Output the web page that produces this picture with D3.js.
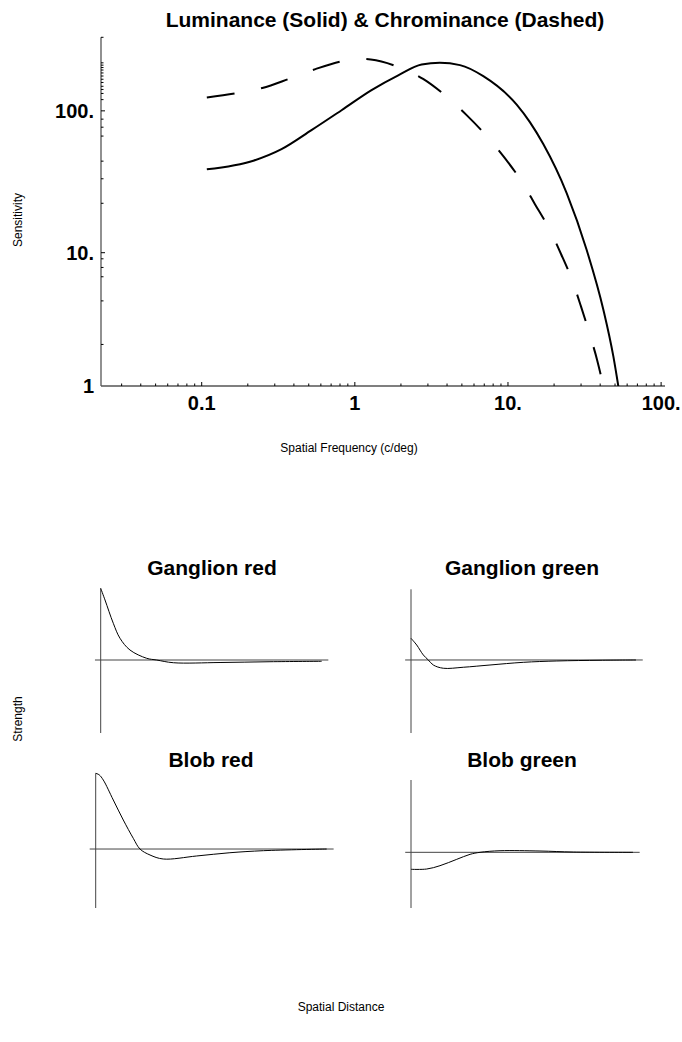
<!DOCTYPE html>
<html>
<head>
<meta charset="utf-8">
<script src="https://cdn.jsdelivr.net/npm/d3@7"></script>
<style>
    body { margin: 0; background: #fff; }
    svg { display: block; }
    text { font-family: "Liberation Sans", Arial, Helvetica, sans-serif; fill: #000; }
</style>
</head>
<body>
<div id="chart"></div>
<script>
// ---- data: contrast sensitivity (log-log) ----
const lumFreq = [0.108, 0.22, 0.332, 0.521, 0.819, 1.285, 1.92, 2.73, 3.59, 4.86, 6.9, 11.4, 13.9, 17.0, 24.2, 32.7, 42.0, 48.8, 52.6];
const lumSens = [38.7, 44.7, 53.7, 73.1, 101, 140, 178, 212, 218, 210, 175.5, 110.6, 83.2, 58.3, 26.2, 10.4, 3.72, 1.66, 0.99];

const chromFreq = [0.108, 0.166, 0.249, 0.376, 0.553, 0.839, 1.03, 1.27, 1.94, 2.79, 3.94, 5.37, 7.26, 9.46, 12.2, 15.0, 18.6, 22.2, 26.3, 30.0, 34.3, 38.3, 42.0];
const chromSens = [124.3, 133, 145, 169, 197, 225, 233, 230, 203, 168, 127, 93.3, 66.4, 47, 32.1, 22.0, 14.7, 9.78, 6.17, 3.94, 2.41, 1.55, 0.99];

const xMajorTicks = [0.1, 1, 10, 100];
const xTickLabels = ['0.1', '1', '10.', '100.'];
const xMinorTicks = [0.03, 0.04, 0.05, 0.06, 0.07, 0.08, 0.09,
    0.2, 0.3, 0.4, 0.5, 0.6, 0.7, 0.8, 0.9,
    2, 3, 4, 5, 6, 7, 8, 9,
    20, 30, 40, 50, 60, 70, 80, 90];

const yMajorTicks = [1, 10, 100];
const yTickLabels = ['1', '10.', '100.'];
const yMinorTicks = [2.05, 4.35, 6.6, 7.75, 9,
    22.3, 33.2, 44.2, 66.4, 76.7, 87.4,
    120, 132.6, 141.5, 149, 158.5, 167, 176, 185, 194, 202, 210, 218, 330];

// ---- data: receptive field profiles (distance 0..10, arbitrary strength) ----
const ganglionRedDist = [0, 0.195, 0.57, 0.873, 1.326, 2.08, 2.53, 3.29, 5.4, 7.66, 10];
const ganglionRedStrength = [1.0, 0.837, 0.512, 0.303, 0.139, 0.024, 0, -0.038, -0.035, -0.024, -0.018];

const ganglionGreenDist = [0, 0.253, 0.547, 0.769, 0.991, 1.436, 2.324, 3.51, 4.99, 6.48, 8.4, 10];
const ganglionGreenStrength = [0.307, 0.212, 0.071, 0, -0.071, -0.117, -0.103, -0.071, -0.033, -0.014, -0.004, 0];

const blobRedDist = [0, 0.15, 0.329, 0.762, 1.195, 1.628, 1.918, 2.351, 2.926, 4.372, 5.81, 7.26, 10];
const blobRedStrength = [1.0, 0.98, 0.911, 0.647, 0.383, 0.141, 0, -0.079, -0.132, -0.092, -0.049, -0.022, 0];

const blobGreenDist = [0, 0.707, 1.306, 2.06, 2.66, 3.11, 4.01, 5.81, 7.31, 10];
const blobGreenStrength = [-0.235, -0.231, -0.185, -0.097, -0.028, 0, 0.022, 0.018, 0.004, 0];

const width = 682;
const height = 1042;

const svg = d3.select('#chart')
    .append('svg')
    .attr('width', width)
    .attr('height', height);

/**
 * Top plot: luminance vs chrominance sensitivity on log-log axes
 */
function drawSensitivity() {
    const x = d3.scaleLog().domain([0.022, 106]).range([101, 665]);
    // piecewise log scale, the decades in the original are not quite even
    const y = d3.scaleLog().domain([1, 10, 330]).range([386, 252.7, 37.3]);

    svg.append('text')
        .attr('x', 385).attr('y', 27)
        .attr('text-anchor', 'middle')
        .style('font-size', '21px').style('font-weight', 'bold')
        .text('Luminance (Solid) & Chrominance (Dashed)');

    // axis lines
    const axisColor = '#555';
    svg.append('line')
        .attr('x1', x.range()[0]).attr('x2', x.range()[1])
        .attr('y1', y(1)).attr('y2', y(1))
        .attr('stroke', axisColor).attr('stroke-width', 1.3);
    svg.append('line')
        .attr('x1', x.range()[0]).attr('x2', x.range()[0])
        .attr('y1', y(1)).attr('y2', y(330))
        .attr('stroke', axisColor).attr('stroke-width', 1.3);

    // x ticks
    svg.selectAll('.xmin').data(xMinorTicks).enter().append('line')
        .attr('x1', d => x(d)).attr('x2', d => x(d))
        .attr('y1', y(1)).attr('y2', y(1) - 2.5)
        .attr('stroke', '#000').attr('stroke-width', 1);
    svg.selectAll('.xmaj').data(xMajorTicks).enter().append('line')
        .attr('x1', d => x(d)).attr('x2', d => x(d))
        .attr('y1', y(1)).attr('y2', y(1) - 4)
        .attr('stroke', '#000').attr('stroke-width', 1);
    svg.selectAll('.xlab').data(xMajorTicks).enter().append('text')
        .attr('x', d => x(d)).attr('y', y(1) + 24)
        .attr('text-anchor', 'middle')
        .style('font-size', '20px').style('font-weight', 'bold')
        .text((d, i) => xTickLabels[i]);

    // y ticks
    svg.selectAll('.ymin').data(yMinorTicks).enter().append('line')
        .attr('x1', x.range()[0]).attr('x2', x.range()[0] + 2.5)
        .attr('y1', d => y(d)).attr('y2', d => y(d))
        .attr('stroke', '#000').attr('stroke-width', 1);
    svg.selectAll('.ymaj').data(yMajorTicks.slice(1)).enter().append('line')
        .attr('x1', x.range()[0]).attr('x2', x.range()[0] + 4)
        .attr('y1', d => y(d)).attr('y2', d => y(d))
        .attr('stroke', '#000').attr('stroke-width', 1);
    svg.selectAll('.ylab').data(yMajorTicks).enter().append('text')
        .attr('x', 94).attr('y', d => y(d) + 7)
        .attr('text-anchor', 'end')
        .style('font-size', '20px').style('font-weight', 'bold')
        .text((d, i) => yTickLabels[i]);

    // axis titles
    svg.append('text')
        .attr('transform', 'translate(22,220) rotate(-90)')
        .attr('text-anchor', 'middle')
        .style('font-size', '12px')
        .text('Sensitivity');
    svg.append('text')
        .attr('x', 349).attr('y', 452)
        .attr('text-anchor', 'middle')
        .style('font-size', '12px')
        .text('Spatial Frequency (c/deg)');

    // clip curves to the plot area
    svg.append('clipPath').attr('id', 'plot-clip')
        .append('rect')
        .attr('x', x.range()[0]).attr('y', y(330))
        .attr('width', x.range()[1] - x.range()[0])
        .attr('height', y(1) - y(330));

    const line = d3.line()
        .x(d => x(d[0]))
        .y(d => y(d[1]))
        .curve(d3.curveMonotoneX);

    svg.append('path')
        .datum(lumFreq.map((f, i) => [f, lumSens[i]]))
        .attr('clip-path', 'url(#plot-clip)')
        .attr('d', line)
        .attr('fill', 'none')
        .attr('stroke', '#000')
        .attr('stroke-width', 2);

    svg.append('path')
        .datum(chromFreq.map((f, i) => [f, chromSens[i]]))
        .attr('clip-path', 'url(#plot-clip)')
        .attr('d', line)
        .attr('fill', 'none')
        .attr('stroke', '#000')
        .attr('stroke-width', 2)
        .attr('stroke-dasharray', '28,27');
}

/**
 * One small receptive-field panel
 * @param {Object} p - panel layout and data
 */
function drawPanel(p) {
    const x = d3.scaleLinear().domain([0, 10]).range([p.left, p.left + p.w]);
    const y = d3.scaleLinear().domain([p.yMin, 1]).range([p.bottom, p.top]);

    svg.append('text')
        .attr('x', p.titleX).attr('y', p.titleY)
        .attr('text-anchor', 'middle')
        .style('font-size', '21px').style('font-weight', 'bold')
        .text(p.title);

    // axes cross at the origin
    svg.append('line')
        .attr('x1', x(-0.26)).attr('x2', x(10.3))
        .attr('y1', y(0)).attr('y2', y(0))
        .attr('stroke', '#444').attr('stroke-width', 1);
    svg.append('line')
        .attr('x1', x(0)).attr('x2', x(0))
        .attr('y1', y(p.yMin)).attr('y2', y(1))
        .attr('stroke', '#444').attr('stroke-width', 1);

    const line = d3.line()
        .x(d => x(d[0]))
        .y(d => y(d[1]))
        .curve(d3.curveCatmullRom.alpha(0.5));

    svg.append('path')
        .datum(p.dist.map((d, i) => [d, p.strength[i]]))
        .attr('d', line)
        .attr('fill', 'none')
        .attr('stroke', '#000')
        .attr('stroke-width', 1);
}

function drawProfiles() {
    const panels = [
        { title: 'Ganglion red', dist: ganglionRedDist, strength: ganglionRedStrength,
          left: 100.7, w: 221, top: 588.3, bottom: 733, yMin: -1.018, titleX: 212, titleY: 575 },
        { title: 'Ganglion green', dist: ganglionGreenDist, strength: ganglionGreenStrength,
          left: 411, w: 225, top: 589.3, bottom: 733, yMin: -1.033, titleX: 522, titleY: 575 },
        { title: 'Blob red', dist: blobRedDist, strength: blobRedStrength,
          left: 95.7, w: 231, top: 773.3, bottom: 908, yMin: -0.779, titleX: 211, titleY: 767 },
        { title: 'Blob green', dist: blobGreenDist, strength: blobGreenStrength,
          left: 411, w: 222, top: 780, bottom: 908, yMin: -0.77, titleX: 522, titleY: 767 }
    ];
    panels.forEach(drawPanel);

    svg.append('text')
        .attr('transform', 'translate(22,719) rotate(-90)')
        .attr('text-anchor', 'middle')
        .style('font-size', '12px')
        .text('Strength');
    svg.append('text')
        .attr('x', 341).attr('y', 1011)
        .attr('text-anchor', 'middle')
        .style('font-size', '12px')
        .text('Spatial Distance');
}

drawSensitivity();
drawProfiles();
</script>
</body>
</html>
